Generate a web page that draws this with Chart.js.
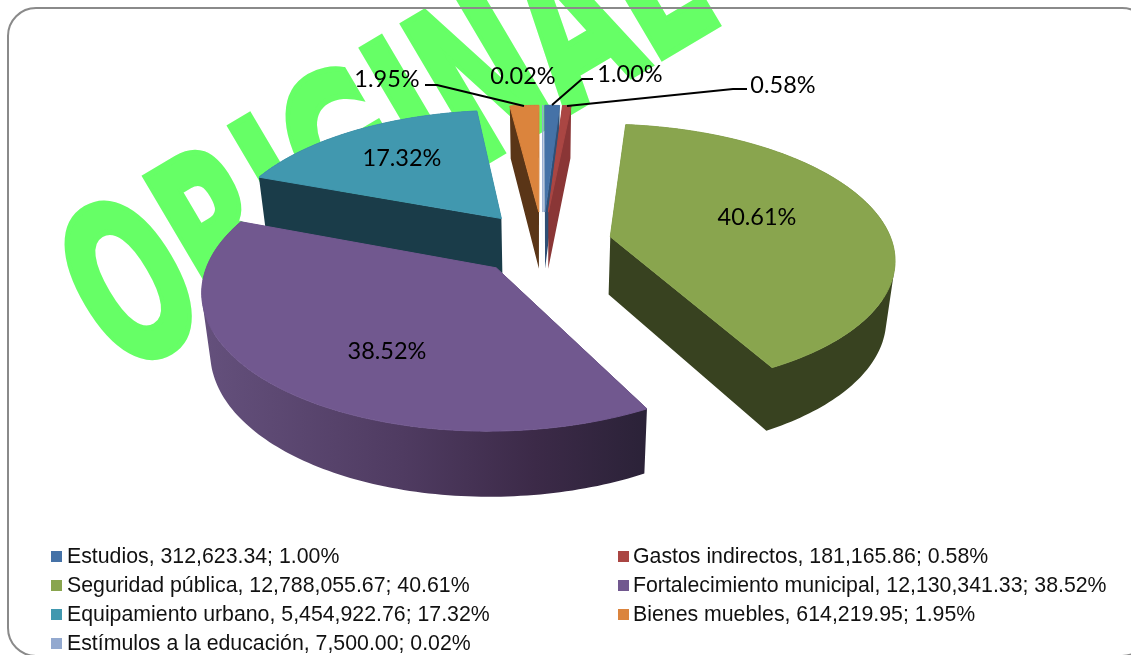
<!DOCTYPE html>
<html><head><meta charset="utf-8">
<style>html,body{margin:0;padding:0;background:#fff;overflow:hidden}canvas{display:block}</style>
<script src="https://cdn.jsdelivr.net/npm/chart.js@4/dist/chart.umd.min.js"></script>
</head><body><canvas id="c" width="1131" height="655"></canvas>
<script>
const categories = ['Estudios','Gastos indirectos','Seguridad pública','Fortalecimiento municipal','Equipamiento urbano','Bienes muebles','Estímulos a la educación'];
const amounts = [312623.34,181165.86,12788055.67,12130341.33,5454922.76,614219.95,7500.00];
const amountLabels = ['312,623.34','181,165.86','12,788,055.67','12,130,341.33','5,454,922.76','614,219.95','7,500.00'];
const percentLabels = ['1.00%','0.58%','40.61%','38.52%','17.32%','1.95%','0.02%'];
const topColors = ['#4572A7','#AA4643','#89A54E','#71588F','#4198AF','#DB843D','#93A9CF'];
const sideColors = ['#2F4F75','#8A3636','#384220',null,'#1A3C49','#5A3517','#c5d0e4'];
const watermark = 'ORIGINAL';

// layout of texts & leaders (pixels)
const labelPos = [[630,74],[783,85],[757,217],[387,351],[402,158],[387,79],[523,76]];
const leaders = {0:[[593,79],[582,79],[552,105]],1:[[747,89],[733,89],[567,106]],5:[[425,85],[437,85],[524,106]]};
const drawOrder = [6,0,5,1,4,2,3];

// projection of a 3-D exploded pie
const P = {cx:543, cy:243, A:282, B:131, p:0.148, explode:0.245, depth:58, shrink:0.975};
function proj(x,y,bottom){
  const w = 1+P.p*y;
  let sx = P.A*x/w, sy = -P.B*y/w;
  if(bottom){ sx*=P.shrink; sy = sy*P.shrink + P.depth/w; }
  return [P.cx+sx, P.cy+sy];
}
function slice3d(ctx, el, i){
  const a0 = el.startAngle+Math.PI/2, a1 = el.endAngle+Math.PI/2, m=(a0+a1)/2;
  const ox = P.explode*Math.sin(m), oy = P.explode*Math.cos(m);
  const n = Math.max(2,Math.ceil((a1-a0)/0.02));
  const rim=[]; for(let k=0;k<=n;k++){const t=a0+(a1-a0)*k/n; rim.push([ox+Math.sin(t),oy+Math.cos(t)]);}
  const addPoly=(pts)=>{
    // same winding for every piece so that one nonzero fill covers them all without seams
    let area=0; pts.forEach((q,k)=>{const r=pts[(k+1)%pts.length];area+=q[0]*r[1]-r[0]*q[1];});
    const list=area<0?pts.slice().reverse():pts;
    list.forEach((q,k)=>k?ctx.lineTo(q[0],q[1]):ctx.moveTo(q[0],q[1]));ctx.closePath();
  };
  let side = sideColors[i];
  if(!side){
    const g = ctx.createLinearGradient(205,0,645,0);
    g.addColorStop(0,'#64507C');g.addColorStop(.45,'#4F3B61');g.addColorStop(.75,'#3C2A48');g.addColorStop(1,'#2B2238');
    side=g;
  }
  const tipT=proj(ox,oy,false), tipB=proj(ox,oy,true);
  const r0=rim[0], r1=rim[n];
  ctx.beginPath();
  addPoly([tipT,proj(r0[0],r0[1],false),proj(r0[0],r0[1],true),tipB]);
  addPoly([tipT,proj(r1[0],r1[1],false),proj(r1[0],r1[1],true),tipB]);
  for(let k=0;k<n;k++){
    const a=rim[k], b=rim[k+1];
    addPoly([proj(a[0],a[1],false),proj(b[0],b[1],false),proj(b[0],b[1],true),proj(a[0],a[1],true)]);
  }
  ctx.fillStyle=side;ctx.fill();
  ctx.beginPath();
  addPoly([tipT].concat(rim.map(q=>proj(q[0],q[1],false))));
  ctx.fillStyle=topColors[i];ctx.fill();
  ctx.strokeStyle=topColors[i];ctx.lineWidth=1;ctx.stroke();
}
const pie3d = {
  id:'pie3d',
  beforeDraw(chart){
    const ctx=chart.ctx; ctx.save();
    ctx.fillStyle='#fff';ctx.fillRect(0,0,chart.width,chart.height);
    // watermark
    ctx.save();
    ctx.translate(122,377);ctx.rotate(-Math.PI/6-0.01);ctx.scale(.583,1);
    ctx.font='bold 220px "DejaVu Sans"';ctx.fillStyle='#66FF66';ctx.strokeStyle='#66FF66';ctx.lineWidth=6;ctx.lineJoin='miter';
    ctx.textAlign='left';ctx.textBaseline='alphabetic';
    ctx.fillText(watermark,0,0);ctx.strokeText(watermark,0,0);
    ctx.restore();
    // frame
    ctx.beginPath();ctx.roundRect(8,8,1142,648,28);ctx.strokeStyle='#8a8a8a';ctx.lineWidth=2;ctx.stroke();
    ctx.restore();
  },
  beforeDatasetsDraw(chart){
    const ctx=chart.ctx, arcs=chart.getDatasetMeta(0).data;
    ctx.save();
    drawOrder.forEach(i=>slice3d(ctx,arcs[i],i));
    ctx.restore();
    return false;
  },
  afterDraw(chart){
    const ctx=chart.ctx; ctx.save();
    ctx.strokeStyle='#000';ctx.lineWidth=2;
    Object.values(leaders).forEach(l=>{ctx.beginPath();l.forEach((q,k)=>k?ctx.lineTo(q[0],q[1]):ctx.moveTo(q[0],q[1]));ctx.stroke();});
    ctx.fillStyle='#000';ctx.font='23.5px Lato';ctx.textAlign='center';ctx.textBaseline='middle';
    percentLabels.forEach((t,i)=>ctx.fillText(t,labelPos[i][0],labelPos[i][1]));
    // legend
    const colX=[51,618], textX=[67,633], rowY=[557,586,615,644];
    ctx.font='21.3px "Liberation Sans"';ctx.textAlign='left';
    categories.forEach((c,i)=>{
      const y=rowY[Math.floor(i/2)];
      ctx.fillStyle=topColors[i];ctx.fillRect(colX[i%2],y-6,11,11);
      ctx.fillStyle='#111';ctx.fillText(c+', '+amountLabels[i]+'; '+percentLabels[i],textX[i%2],y);
    });
    ctx.restore();
  }
};
new Chart(document.getElementById('c'),{
  type:'pie',
  data:{labels:categories,datasets:[{data:amounts,backgroundColor:topColors}]},
  options:{responsive:false,animation:false,plugins:{legend:{display:false},tooltip:{enabled:false}}},
  plugins:[pie3d]
});
</script></body></html>
